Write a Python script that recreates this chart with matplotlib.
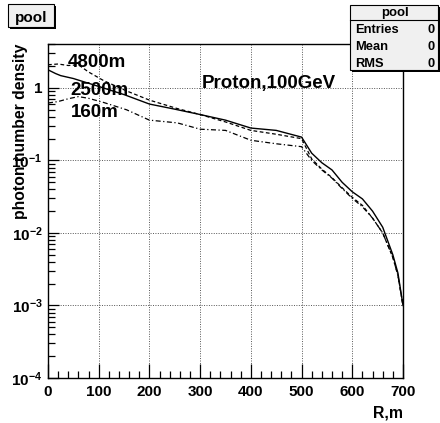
import math
import matplotlib
matplotlib.use("Agg")
import matplotlib.pyplot as plt
from matplotlib.ticker import FixedLocator, LogLocator, FuncFormatter, NullFormatter
from matplotlib.patches import Rectangle

plt.rcParams['font.family'] = ['Liberation Sans', 'DejaVu Sans']
plt.rcParams['font.weight'] = 'bold'
plt.rcParams['mathtext.fontset'] = 'custom'
plt.rcParams['mathtext.rm'] = 'Liberation Sans:bold'
plt.rcParams['mathtext.bf'] = 'Liberation Sans:bold'
plt.rcParams['mathtext.default'] = 'bf'

# photon density vs core distance, three observation levels
r_2500 = [0, 15, 25, 50, 100, 150, 200, 250, 300, 350, 400, 450, 500,
          520, 540, 560, 580, 600, 620, 640, 660, 680, 690, 700]
d_2500 = [1.78, 1.58, 1.48, 1.35, 1.05, 0.81, 0.60, 0.51, 0.43, 0.36, 0.28, 0.26, 0.21,
          0.126, 0.093, 0.074, 0.050, 0.037, 0.0295, 0.020, 0.012, 0.0050, 0.0028, 0.001]

r_4800 = [0, 20, 40, 60, 80, 110, 155, 200, 255, 300, 350, 400, 450, 500,
          520, 540, 560, 580, 600, 620, 640, 660, 680, 690, 700]
d_4800 = [2.09, 2.14, 2.04, 2.09, 1.66, 1.26, 0.91, 0.68, 0.52, 0.43, 0.34, 0.26, 0.23, 0.20,
          0.105, 0.076, 0.058, 0.042, 0.031, 0.024, 0.016, 0.0100, 0.0046, 0.0026, 0.001]

r_160 = [0, 20, 40, 60, 80, 110, 155, 200, 255, 300, 350, 400, 450, 500,
         520, 540, 560, 580, 600, 620, 640, 660, 680, 690, 700]
d_160 = [0.62, 0.65, 0.71, 0.76, 0.72, 0.63, 0.50, 0.36, 0.33, 0.27, 0.26, 0.19, 0.17, 0.155,
         0.10, 0.074, 0.057, 0.041, 0.030, 0.023, 0.016, 0.0100, 0.0046, 0.0026, 0.001]

labels = ["4800m", "2500m", "160m"]
label_pos = [(68, 67), (70, 95), (71, 117)]

stat_names = ["Entries", "Mean", "RMS"]
stat_values = ["0", "0", "0"]

W, H = 440, 423


def fx(x):
    return x / W


def fy(y):
    return 1 - y / H


def yfmt(v, pos):
    if abs(v - 1) < 1e-9:
        return '1'
    return r'$10^{%d}$' % round(math.log10(v))


def main():
    fig = plt.figure(figsize=(W / 100, H / 100), dpi=100)
    ax = fig.add_axes([fx(48), fy(378), fx(403) - fx(48), fy(44) - fy(378)])

    ax.plot(r_4800, d_4800, color='black', lw=0.9, dashes=(3, 2))
    ax.plot(r_160, d_160, color='black', lw=0.9, dashes=(4, 2, 1, 2))
    ax.plot(r_2500, d_2500, color='black', lw=1.0)

    ax.set_yscale('log')
    ax.set_xlim(0, 700)
    ax.set_ylim(1e-4, 4.04)

    ax.xaxis.set_major_locator(FixedLocator(range(0, 701, 100)))
    ax.xaxis.set_minor_locator(FixedLocator(range(0, 701, 20)))
    ax.yaxis.set_major_locator(LogLocator(base=10, numticks=10))
    ax.yaxis.set_minor_locator(LogLocator(base=10, subs=range(2, 10), numticks=20))
    ax.yaxis.set_minor_formatter(NullFormatter())
    ax.yaxis.set_major_formatter(FuncFormatter(yfmt))

    ax.tick_params(axis='both', which='both', direction='in', top=False, right=False,
                   width=0.9, color='black')
    ax.tick_params(axis='x', which='major', length=10, pad=5, labelsize=11)
    ax.tick_params(axis='x', which='minor', length=5)
    ax.tick_params(axis='y', which='major', length=8, pad=4, labelsize=11)
    ax.tick_params(axis='y', which='minor', length=5)

    ax.grid(True, which='major', color='#555555', lw=0.7, linestyle=(0, (1, 1.5)))
    for s in ax.spines.values():
        s.set_linewidth(1.0)

    for txt, (x, y) in zip(labels, label_pos):
        fig.text(fx(x), fy(y), txt, fontsize=13.5, fontweight='bold', ha='left', va='baseline')
    fig.text(fx(202), fy(88), "Proton,100GeV", fontsize=13.5, fontweight='bold',
             ha='left', va='baseline')

    fig.text(fx(20), fy(44), "photon number density", rotation=90, fontsize=11.3,
             fontweight='bold', ha='center', va='top')
    fig.text(fx(403), fy(417), "R,m", fontsize=11.4, fontweight='bold', ha='right', va='baseline')

    # title box
    fig.patches.append(Rectangle((fx(10), fy(29)), fx(46), fy(0) - fy(23), transform=fig.transFigure,
                                 facecolor='black', edgecolor='none'))
    fig.patches.append(Rectangle((fx(8), fy(27)), fx(46), fy(0) - fy(23), transform=fig.transFigure,
                                 facecolor='#f0f0f0', edgecolor='black', lw=0.8))
    fig.text(fx(31), fy(22), "pool", fontsize=11, fontweight='bold', ha='center', va='baseline')

    # stats box
    fig.patches.append(Rectangle((fx(352), fy(72)), fx(88), fy(0) - fy(65), transform=fig.transFigure,
                                 facecolor='black', edgecolor='none'))
    fig.patches.append(Rectangle((fx(350), fy(70)), fx(88), fy(0) - fy(65), transform=fig.transFigure,
                                 facecolor='#f0f0f0', edgecolor='black', lw=0.8))
    fig.lines.append(plt.Line2D([fx(350), fx(438)], [fy(20), fy(20)], transform=fig.transFigure,
                                color='black', lw=0.8))
    fig.text(fx(395), fy(16), "pool", fontsize=9.5, fontweight='bold', ha='center', va='baseline')
    for name, val, yy in zip(stat_names, stat_values, [33, 50, 67]):
        fig.text(fx(355), fy(yy), name, fontsize=9.3, fontweight='bold', ha='left', va='baseline')
        fig.text(fx(435), fy(yy), val, fontsize=9.3, fontweight='bold', ha='right', va='baseline')

    fig.savefig("out.png", dpi=100)


if __name__ == "__main__":
    main()
